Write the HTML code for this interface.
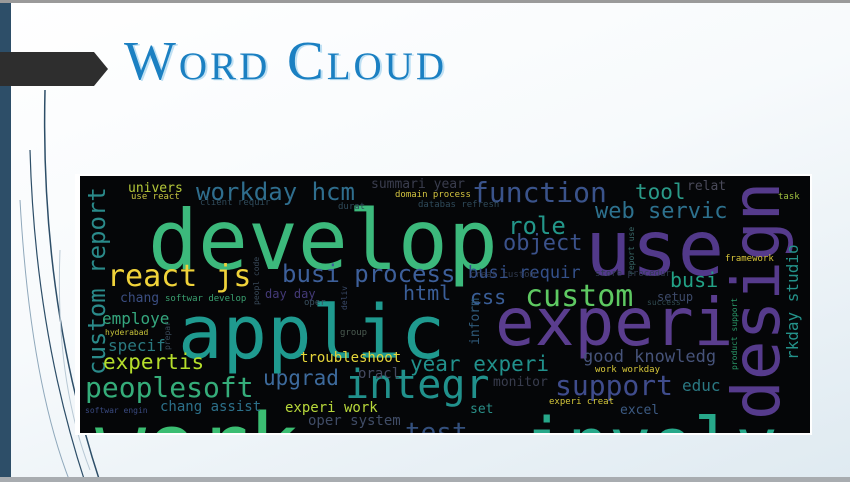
<!DOCTYPE html>
<html><head><meta charset="utf-8">
<style>
html,body{margin:0;padding:0;}
body{width:850px;height:482px;overflow:hidden;position:relative;background:linear-gradient(160deg,#ffffff 0%,#f7fafc 45%,#dfeaf1 100%);font-family:"Liberation Sans",sans-serif;}
#topline{position:absolute;left:0;top:0;width:850px;height:3px;background:#9a9a9a;}
#botline{position:absolute;left:0;top:477px;width:850px;height:5px;background:#a8acb0;}
#leftbar{position:absolute;left:0;top:3px;width:11px;height:474px;background:#2d4e68;}
#arrow{position:absolute;left:0;top:52px;width:108px;height:34px;background:#2e2e2e;clip-path:polygon(0 0,94px 0,108px 17px,94px 34px,0 34px);}
#title{position:absolute;left:124px;top:31px;font-family:"Liberation Serif",serif;font-variant:small-caps;font-size:55px;color:#1b80c2;letter-spacing:3px;text-shadow:2px 1px 0 #bfe0f3;line-height:60px;}
#cloudframe{position:absolute;left:75px;top:174px;width:737px;height:261px;background:#fff;}
#cloud{position:absolute;left:80px;top:176px;width:730px;height:257px;background:#050608;overflow:hidden;}
#cloud span{position:absolute;font-family:"DejaVu Sans Mono",monospace;white-space:nowrap;line-height:1;}
</style></head>
<body>
<div id="topline"></div>
<svg style="position:absolute;left:0;top:0" width="850" height="482">
<path d="M45 90 Q40 300 100 482" stroke="#2d4e68" stroke-width="1.5" fill="none"/>
<path d="M30 150 Q35 330 85 482" stroke="#2d4e68" stroke-width="1.2" fill="none"/>
<path d="M20 200 Q30 380 70 482" stroke="#8fa8bb" stroke-width="1" fill="none"/>
<path d="M60 250 Q55 380 90 470" stroke="#b8c8d4" stroke-width="1" fill="none"/>
</svg>
<div id="leftbar"></div>
<div id="arrow"></div>
<div id="title">Word Cloud</div>
<div id="cloudframe"></div>
<div id="cloud"></div>
<div id="botline"></div>
<script>
const words=["develop","applic","experi","use","design","work","involv","integr","test","custom report","workday hcm","function","tool","relat","univers","use react","summari year","domain process","client requir","durat","databas refresh","role","web servic","object","task","react js","busi process","busi requir","busi","framework","html","css","custom","setup","chang","softwar develop","day day","oper","employe","hyderabad","specif","expertis","troubleshoot","year experi","good knowledg","work workday","oracl","group","peoplesoft","upgrad","support","educ","monitor","chang assist","experi work","oper system","softwar engin","experi creat","excel","set","inform","rkday studio","product support","report use","peopl code","deliv","prepar","store procedur","creat custom","success"];
const xs=[148,178,495,585,717,95,525,345,405,83,196,472,635,687,128,131,371,395,200,338,418,508,595,503,778,107,282,468,670,725,403,470,525,657,120,165,265,304,102,105,108,103,300,410,583,595,358,340,85,263,555,682,493,160,285,308,85,549,620,470,468,783,730,627,252,340,163,595,470,647];
const ys=[262,352,340,270,420,468,462,395,440,375,198,200,198,190,192,200,188,198,206,210,208,232,218,250,200,285,280,278,285,262,298,302,305,300,302,302,297,306,323,335,350,368,362,370,362,373,378,336,395,384,393,390,386,411,412,425,413,405,414,413,345,360,370,275,305,310,350,277,278,305];
const sizes=[83,74,66,77,66,85,70,40,26,24,24,28,21,13,13,9,13,9,9,9,9,24,22,22,9,30,24,17,20,9,20,20,30,12,13,9,12,9,16,8,16,21,14,21,17,9,14,9,28,21,28,16,13,14,14,14,8,9,13,13,13,16,8,8,8,8,8,9,9,8];
const colors=["#3cb97c","#1f9a8f","#5a3d8e","#52398a","#563b8c","#3bbd72","#27a88a","#21918c","#34507e","#2a8a8a","#2f6e8e","#3a538b","#2a9a88","#4a4a5a","#b5c93a","#c8c440","#3a3d4e","#d4c440","#2f4a5a","#2f4a5a","#2f4a5a","#23978a","#2d718e","#3b528b","#a0c040","#f0d33a","#3d5f9a","#34508a","#22a286","#d9c63a","#3a5e98","#3a5e98","#5ec962","#3d4a6a","#3b4e82","#3aa070","#443a78","#3a5060","#35a77e","#c8c43a","#2a7a80","#b5de2b","#e5d53a","#21918c","#46537a","#d7c73a","#454a60","#4a5a50","#35ad7a","#3d6a9c","#3f4c8c","#2a7882","#393d4e","#2c708a","#b8d83a","#404c66","#3a4a80","#d4c63a","#3c5a82","#2a8f88","#2f5a7a","#24928a","#2a9a6a","#3a6a6a","#3a4a5a","#3a4a6a","#3a4a5a","#303a50","#303a50","#304a50"];
const rot=[0,0,0,0,-90,0,0,0,0,-90,0,0,0,0,0,0,0,0,0,0,0,0,0,0,0,0,0,0,0,0,0,0,0,0,0,0,0,0,0,0,0,0,0,0,0,0,0,0,0,0,0,0,0,0,0,0,0,0,0,0,-90,-90,-90,-90,-90,-90,-90,0,0,0];
const cloud=document.getElementById('cloud');
const OX=80,OY=176;
for(let i=0;i<words.length;i++){
  const s=document.createElement('span');
  
  
  s.textContent=words[i];
  s.style.fontSize=sizes[i]+'px';
  s.style.color=colors[i];
  if(rot[i]===0){
    s.style.left=(xs[i]-OX)+'px';
    s.style.top=(ys[i]-OY-sizes[i]*0.76)+'px';
  }else{
    s.style.left=(xs[i]-OX+sizes[i]*0.1)+'px';
    s.style.top=(ys[i]-OY)+'px';
    s.style.transformOrigin='0 0';
    s.style.transform='rotate(-90deg)';
  }
  cloud.appendChild(s);
}
</script>
</body></html>
